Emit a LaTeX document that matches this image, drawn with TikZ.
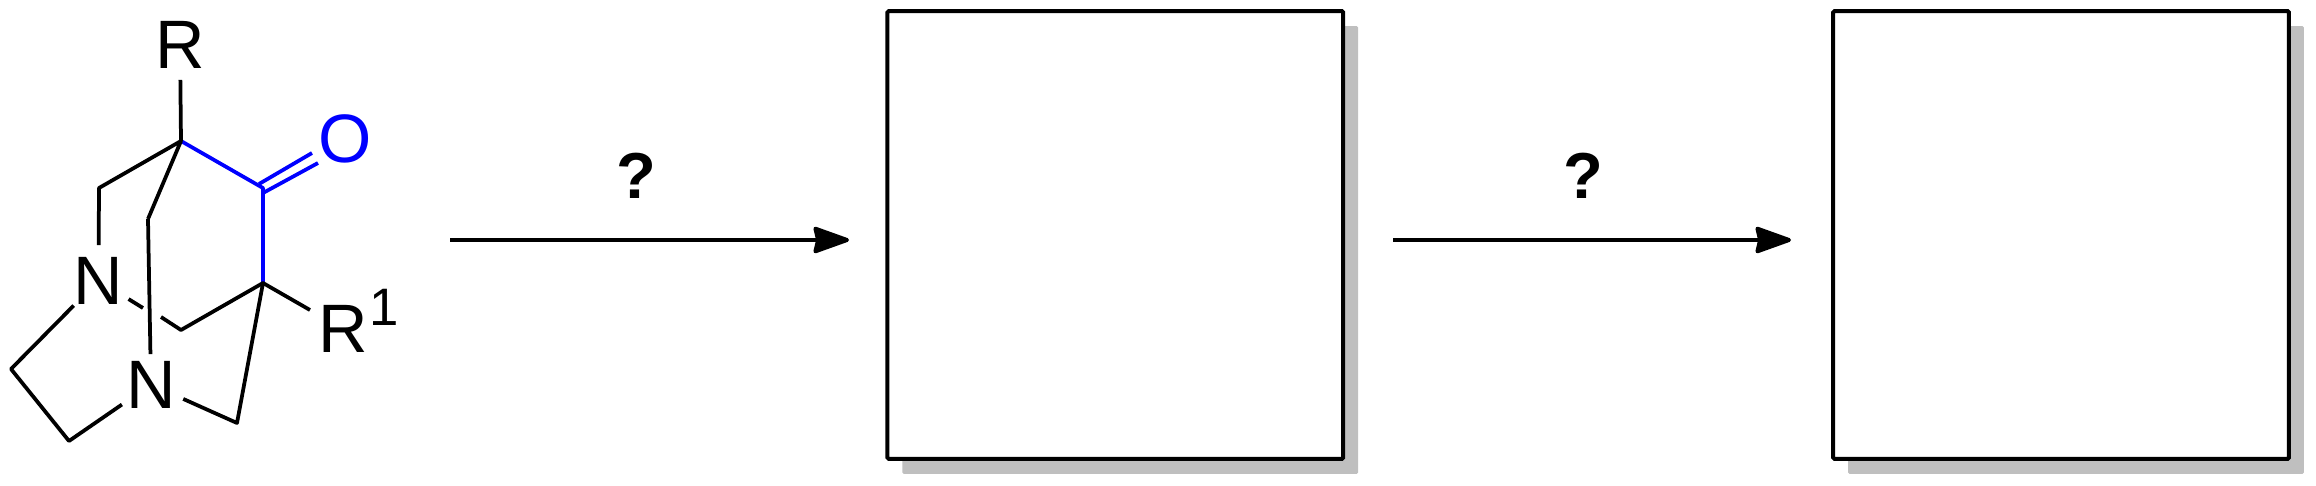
\documentclass[tikz,border=0pt]{standalone}
\usepackage{fontspec}
\setmainfont{Liberation Sans}
\usetikzlibrary{arrows.meta,shadows}
\definecolor{ketoblue}{RGB}{0,0,255}
\tikzset{
	bond/.style={line width=0.075cm,line join=round},
	atom/.style={circle,inner sep=0pt,minimum size=1.4cm,font=\fontsize{39pt}{39pt}\selectfont},
	reaction/.style={line width=0.08cm,-{Stealth[length=0.8cm,width=0.56cm,inset=0.06cm,round]}},
	query/.style={inner sep=0pt,font=\fontsize{37pt}{37pt}\selectfont\bfseries},
	answerbox/.style={draw=black,fill=white,line width=0.08cm,rounded corners=0.03cm,inner sep=0pt,outer sep=0pt,
		minimum width=9.12cm,minimum height=8.96cm,
		drop shadow={shadow xshift=0.3cm,shadow yshift=-0.3cm,fill=black!25,opacity=1}},
}
\begin{document}
\begin{tikzpicture}[
		x={(0.02cm,0cm)},
		y={(0cm,-0.02cm)},
	]
		\useasboundingbox (0,0) rectangle (2316,486);

		% skeleton
		\coordinate (Ca) at (181,141);
		\coordinate (Cb) at (263,188);
		\coordinate (Cc) at (263,283);
		\coordinate (Cd) at (181,330);
		\coordinate (Ce) at (99,188);
		\coordinate (Cf) at (148,219);
		\coordinate (Cg) at (237,423);
		\coordinate (Ch) at (11,369);
		\coordinate (Ci) at (69,441);

		\node[atom] (Rtop) at (180,44.5) {R};
		\node[atom] (Nleft) at (98.5,280.5) {N};
		\node[atom] (Nlow) at (151,384.5) {N};
		\node[atom,text=ketoblue] (Oket) at (345,139) {O};
		\node[inner sep=0pt,anchor=base west,font=\fontsize{39pt}{39pt}\selectfont] (Rsub) at (318,352) {R\kern1pt\raisebox{14.8pt}{\fontsize{30pt}{30pt}\selectfont 1}};

		% free ends
		\coordinate (Rend) at (310,310);
		\coordinate (gapa) at (143,308);
		\coordinate (gapb) at (161,317);
		\coordinate (dblaa) at (259,184);
		\coordinate (dblab) at (312,153);
		\coordinate (dblba) at (263,193);
		\coordinate (dblbb) at (318,163);

		\draw[bond,ketoblue] (Ca) -- (Cb) -- (Cc);
		\draw[bond,ketoblue] (dblaa) -- (dblab);
		\draw[bond,ketoblue] (dblba) -- (dblbb);

		\draw[bond] (Rtop) -- (Ca);
		\draw[bond] (Nleft) -- (Ce) -- (Ca) -- (Cf);
		\draw[bond,shorten >=-0.1cm] (Cf) -- (Nlow);
		\draw[bond] (Nleft) -- (Ch) -- (Ci) -- (Nlow);
		\draw[bond] (Nleft) -- (gapa);
		\draw[bond] (gapb) -- (Cd) -- (Cc) -- (Rend);
		\draw[bond] (Cc) -- (Cg) -- (Nlow);

		% reaction steps and empty boxes
		\foreach \name/\xstart/\xend/\xbox/\xq in {one/450/849/1115.25/636.5,two/1393/1791/2061/1583.5}{
			\node[answerbox] (box\name) at (\xbox,235) {};
			\coordinate (start\name) at (\xstart,240);
			\coordinate (end\name) at (\xend,240);
			\draw[reaction] (start\name) -- (end\name);
			\node[query] (query\name) at (\xq,176) {?};
		}
	\end{tikzpicture}
\end{document}
